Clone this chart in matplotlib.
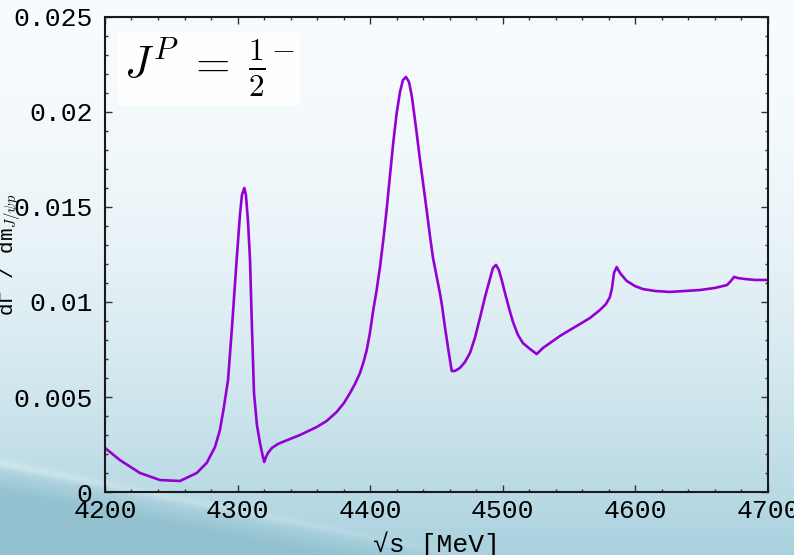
import numpy as np
import matplotlib
matplotlib.use("Agg")
from matplotlib import pyplot as plt
from matplotlib.ticker import MultipleLocator, FuncFormatter

# invariant mass sqrt(s) [MeV] and differential width
sqrt_s = [4200.0, 4211.3, 4226.4, 4241.5, 4256.6, 4269.2, 4276.7, 4283.0, 4286.7,
          4289.7, 4292.8, 4295.8, 4299.3, 4301.8, 4303.3, 4305.1, 4306.3, 4307.8,
          4309.4, 4310.9, 4312.4, 4314.6, 4316.9, 4318.8, 4320.1, 4321.4, 4322.9,
          4325.9, 4330.5, 4339.5, 4347.1, 4359.7, 4367.2, 4374.7, 4380.2, 4384.8,
          4388.5, 4392.3, 4395.0, 4397.4, 4399.8, 4402.1, 4404.9, 4407.4, 4409.9,
          4412.4, 4414.9, 4417.4, 4420.0, 4422.5, 4424.7, 4427.0, 4429.3, 4431.5,
          4434.5, 4437.6, 4440.1, 4442.6, 4445.1, 4447.4, 4450.2, 4452.6, 4454.1,
          4456.4, 4459.0, 4461.5, 4463.9, 4467.7, 4471.5, 4475.3, 4479.0, 4482.8,
          4486.6, 4490.3, 4492.6, 4494.9, 4497.1, 4499.4, 4501.7, 4504.7, 4507.7,
          4511.5, 4515.2, 4520.5, 4525.6, 4530.3, 4535.6, 4543.1, 4550.7, 4558.2,
          4565.8, 4573.3, 4577.8, 4580.8, 4582.4, 4583.9, 4585.9, 4588.4, 4593.4,
          4599.7, 4605.7, 4614.8, 4626.1, 4637.4, 4648.7, 4660.0, 4669.1, 4672.1,
          4674.4, 4677.4, 4682.7, 4690.2, 4700.0]
dgamma = [0.00232, 0.00168, 0.00100, 0.00063, 0.00058, 0.00100, 0.00153, 0.00237, 0.00326,
          0.00447, 0.00589, 0.00868, 0.01221, 0.01458, 0.01563, 0.01600, 0.01563, 0.01432,
          0.01221, 0.00853, 0.00521, 0.00353, 0.00258, 0.00195, 0.00158, 0.00184, 0.00205,
          0.00232, 0.00253, 0.00279, 0.00300, 0.00342, 0.00374, 0.00421, 0.00468, 0.00521,
          0.00568, 0.00626, 0.00684, 0.00747, 0.00837, 0.00947, 0.01063, 0.01184, 0.01326,
          0.01484, 0.01663, 0.01837, 0.01995, 0.02105, 0.02168, 0.02184, 0.02158, 0.02079,
          0.01921, 0.01747, 0.01616, 0.01484, 0.01347, 0.01232, 0.01132, 0.01047, 0.00984,
          0.00868, 0.00747, 0.00637, 0.00637, 0.00653, 0.00684, 0.00732, 0.00811, 0.00916,
          0.01026, 0.01121, 0.01179, 0.01195, 0.01168, 0.01111, 0.01047, 0.00968, 0.00895,
          0.00826, 0.00784, 0.00753, 0.00726, 0.00758, 0.00784, 0.00821, 0.00853, 0.00884,
          0.00916, 0.00958, 0.00989, 0.01026, 0.01074, 0.01153, 0.01184, 0.01153, 0.01111,
          0.01084, 0.01068, 0.01058, 0.01053, 0.01058, 0.01063, 0.01074, 0.01089, 0.01111,
          0.01132, 0.01126, 0.01121, 0.01116, 0.01116]

x_ticks = [4200, 4300, 4400, 4500, 4600, 4700]
y_ticks = [0, 0.005, 0.01, 0.015, 0.02, 0.025]

plt.rcParams['mathtext.fontset'] = 'cm'
mono = ['Liberation Mono', 'DejaVu Sans Mono']

fig = plt.figure(figsize=(7.94, 5.55), dpi=100)

# slide style background: light top, blue towards the bottom, darker wedge bottom-left
h, w = 555, 794
yy, xx = np.mgrid[0:h, 0:w].astype(float)
t = (yy / h) ** 2.0
top = np.array([0.970, 0.985, 0.993])
bot = np.array([0.66, 0.82, 0.87])
img = top * (1 - t[..., None]) + bot * t[..., None]
edge = 460 + 0.2 * xx
d = yy - edge
wedge = np.clip(d / 30.0, 0, 1)[..., None]
dark = np.array([0.55, 0.74, 0.80])
img = img * (1 - wedge * 0.8) + dark * wedge * 0.8
streak = np.exp(-((d - 3) / 4.0) ** 2)[..., None] * np.clip(1 - xx / 600, 0, 1)[..., None]
img = img * (1 - 0.35 * streak) + np.array([0.93, 0.97, 0.98]) * 0.35 * streak
bg = fig.add_axes([0, 0, 1, 1], zorder=-1)
bg.imshow(img, aspect='auto', extent=[0, 1, 0, 1])
bg.axis('off')

ax = fig.add_axes([0.1322, 0.1135, 0.8350, 0.8559])
ax.patch.set_alpha(0)
ax.plot(sqrt_s, dgamma, color='#9400d3', lw=1.9)

ax.set_xlim(4200, 4700)
ax.set_ylim(0, 0.025)
ax.set_xticks(x_ticks)
ax.set_yticks(y_ticks)
ax.yaxis.set_major_formatter(FuncFormatter(lambda v, p: f'{v:g}'))
ax.xaxis.set_minor_locator(MultipleLocator(20))
ax.yaxis.set_minor_locator(MultipleLocator(0.001))
ax.tick_params(which='both', direction='in', top=True, right=True, color='#333333', width=1.0)
ax.tick_params(which='major', length=5)
ax.tick_params(which='minor', length=2.5)
ax.tick_params(axis='y', pad=9)
ax.tick_params(axis='x', pad=5)
for lab in ax.get_xticklabels() + ax.get_yticklabels():
    lab.set_family(mono)
    lab.set_fontsize(19)
for s in ax.spines.values():
    s.set_linewidth(1.5)
    s.set_color('#1a1a1a')

ax.set_xlabel('√s [MeV]', family=mono, fontsize=19)
ax.xaxis.set_label_coords(0.5, -0.084)
ax.set_ylabel(r'dΓ / dm$_{J/\psi p}$', family=mono, fontsize=15)
ax.yaxis.set_label_coords(-0.122, 0.5)

ax.text(0.028, 0.958, r'$J^P\;=\;\frac{1}{2}^{-}$', transform=ax.transAxes, fontsize=32,
        va='top', ha='left',
        bbox=dict(boxstyle='square,pad=0.12', fc='white', ec='none', alpha=0.95))

fig.savefig('out.png', dpi=100)
